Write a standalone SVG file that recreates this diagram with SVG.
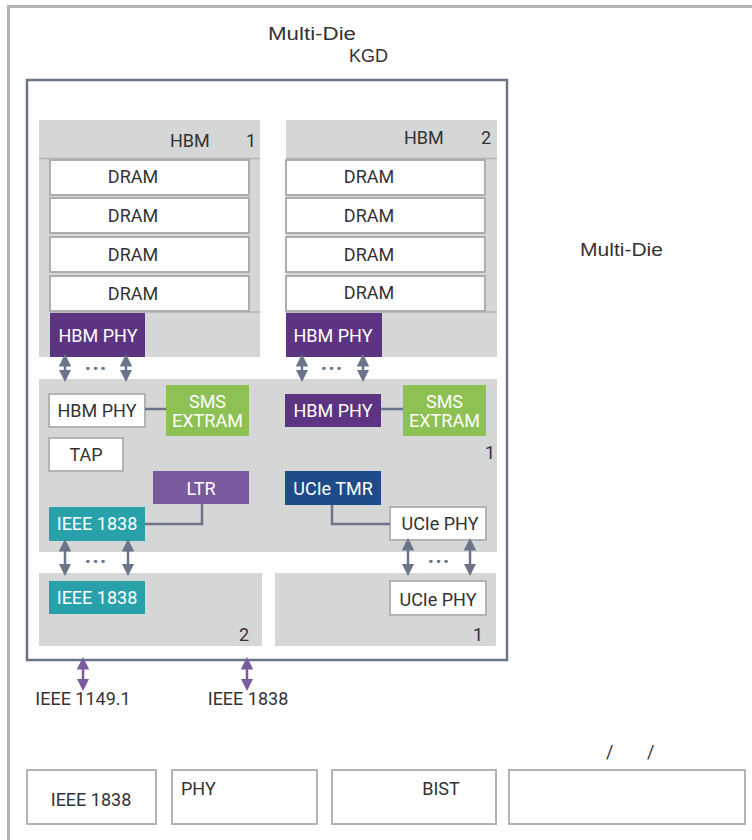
<svg xmlns="http://www.w3.org/2000/svg" width="752" height="840" viewBox="0 0 752 840">
<style>
text{font-family:Roboto,"Liberation Sans",sans-serif;fill:#333;font-size:18px}
.t{font-family:"Liberation Sans",Arial,sans-serif}
.c{text-anchor:middle}
.w{fill:#fff}
.gray{fill:#d5d6d6}
.box{fill:#fff;stroke:#b3b3b3;stroke-width:2}
.dram{fill:#fff;stroke:#aeaeae;stroke-width:2}
.sep{stroke:#b3b3b3;stroke-width:1.5}
.conn{fill:none;stroke:#6b7489;stroke-width:2.5}
.arr{stroke:#6b7489;stroke-width:2.5;marker-start:url(#ag);marker-end:url(#ag)}
.parr{stroke:#7b5ba0;stroke-width:2.5;marker-start:url(#ap);marker-end:url(#ap)}
.dots{fill:#6b7489;font-size:22px;font-weight:bold;letter-spacing:1px}
</style>
<defs>
<marker id="ag" viewBox="0 0 10 10" refX="6" refY="5" markerWidth="5" markerHeight="5" orient="auto-start-reverse" markerUnits="strokeWidth"><path d="M0,0L10,5L0,10z" fill="#6b7489"/></marker>
<marker id="ap" viewBox="0 0 10 10" refX="6" refY="5" markerWidth="5" markerHeight="5" orient="auto-start-reverse" markerUnits="strokeWidth"><path d="M0,0L10,5L0,10z" fill="#7b5ba0"/></marker>
</defs>
<rect x="0" y="0" width="752" height="840" fill="#fff"/>
<rect x="8.5" y="6.5" width="760" height="850" fill="none" stroke="#b3b3b3" stroke-width="3"/>
<text class="t" x="268" y="40" font-size="21" textLength="88" lengthAdjust="spacingAndGlyphs">Multi-Die</text>
<text class="t" x="349" y="62" font-size="16">KGD</text>
<text class="t" x="580" y="256" font-size="21" textLength="83" lengthAdjust="spacingAndGlyphs">Multi-Die</text>

<g id="kgd"><rect x="27" y="80" width="480" height="580" fill="none" stroke="#6b7489" stroke-width="2.5"/></g>

<g id="hbm1">
<rect class="gray" x="39" y="120" width="221" height="237"/>
<line class="sep" x1="39" y1="158.5" x2="260" y2="158.5"/>
<line class="sep" x1="50" y1="312" x2="260" y2="312"/>
<text x="170" y="147">HBM</text><text x="246" y="147">1</text>
<rect class="dram" x="50" y="160" width="199" height="35"/><text class="c" x="133" y="183">DRAM</text>
<rect class="dram" x="50" y="198" width="199" height="35"/><text class="c" x="133" y="222">DRAM</text>
<rect class="dram" x="50" y="237" width="199" height="35"/><text class="c" x="133" y="261">DRAM</text>
<rect class="dram" x="50" y="276" width="199" height="35"/><text class="c" x="133" y="300">DRAM</text>
<rect x="50" y="313" width="95" height="44" fill="#5c3481"/><text class="c w" x="98" y="342">HBM PHY</text>
</g>

<g id="hbm2">
<rect class="gray" x="286" y="120" width="211" height="237"/>
<line class="sep" x1="286" y1="158.5" x2="497" y2="158.5"/>
<line class="sep" x1="286" y1="312" x2="497" y2="312"/>
<text x="404" y="144">HBM</text><text x="481" y="144">2</text>
<rect class="dram" x="286" y="160" width="199" height="35"/><text class="c" x="369" y="183">DRAM</text>
<rect class="dram" x="286" y="198" width="199" height="35"/><text class="c" x="369" y="222">DRAM</text>
<rect class="dram" x="286" y="237" width="199" height="35"/><text class="c" x="369" y="261">DRAM</text>
<rect class="dram" x="286" y="276" width="199" height="35"/><text class="c" x="369" y="299">DRAM</text>
<rect x="286" y="313" width="96" height="44" fill="#5c3481"/><text class="c w" x="333" y="342">HBM PHY</text>
</g>

<g id="die1">
<rect class="gray" x="39" y="379" width="458" height="173"/>
<text x="485" y="459">1</text>
<rect class="box" x="49" y="394" width="96" height="33"/><text class="c" x="97" y="417">HBM PHY</text>
<rect x="166" y="385" width="83" height="51" fill="#8dc153"/><text class="c w" x="207.5" y="408">SMS</text><text class="c w" x="207.5" y="427">EXTRAM</text>
<rect class="box" x="49" y="438" width="74" height="33"/><text class="c" x="86" y="461">TAP</text>
<rect x="153" y="471" width="96" height="33" fill="#7b5ba0"/><text class="c w" x="201" y="495">LTR</text>
<rect x="49" y="507" width="96" height="34" fill="#28a1ab"/><text class="c w" x="97" y="530">IEEE 1838</text>
<rect x="285" y="394" width="96" height="33" fill="#5c3481"/><text class="c w" x="333" y="417">HBM PHY</text>
<rect x="403" y="385" width="83" height="51" fill="#8dc153"/><text class="c w" x="444.5" y="408">SMS</text><text class="c w" x="444.5" y="427">EXTRAM</text>
<rect x="285" y="471" width="96" height="34" fill="#1e4b8a"/><text class="c w" x="333" y="495">UCIe TMR</text>
<rect class="box" x="390" y="507" width="96" height="33" fill="#fff"/><text class="c" x="440" y="530">UCIe PHY</text>
</g>

<g id="die2">
<rect class="gray" x="39" y="573" width="223" height="73"/>
<rect x="49" y="581" width="96" height="33" fill="#28a1ab"/><text class="c w" x="97" y="604">IEEE 1838</text>
<text x="239" y="641">2</text>
</g>

<g id="die1b">
<rect class="gray" x="275" y="573" width="221" height="73"/>
<rect class="box" x="390" y="581" width="96" height="34"/><text class="c" x="438" y="606">UCIe PHY</text>
<text x="473" y="641">1</text>
</g>

<g id="connectors">
<line class="conn" x1="145" y1="409" x2="166" y2="409"/>
<line class="conn" x1="381" y1="409" x2="403" y2="409"/>
<polyline class="conn" points="145,524 202,524 202,504"/>
<polyline class="conn" points="332,505 332,524 390,524"/>
<line class="arr" x1="65" y1="359" x2="65" y2="377"/>
<line class="arr" x1="126" y1="359" x2="126" y2="377"/>
<line class="arr" x1="302" y1="359" x2="302" y2="377"/>
<line class="arr" x1="363" y1="359" x2="363" y2="377"/>
<line class="arr" x1="65" y1="544" x2="65" y2="571"/>
<line class="arr" x1="128" y1="544" x2="128" y2="571"/>
<line class="arr" x1="408" y1="543" x2="408" y2="571"/>
<line class="arr" x1="470" y1="543" x2="470" y2="571"/>
<text class="c dots" x="96" y="376">···</text>
<text class="c dots" x="332" y="376">···</text>
<text class="c dots" x="96" y="569">···</text>
<text class="c dots" x="439" y="569">···</text>
<line class="parr" x1="83" y1="662" x2="83" y2="686"/>
<line class="parr" x1="247" y1="662" x2="247" y2="686"/>
</g>
<text class="c" x="83" y="705">IEEE 1149.1</text>
<text class="c" x="248" y="705">IEEE 1838</text>

<g id="legend">
<rect class="box" x="27" y="770" width="129" height="54"/><text class="c" x="91" y="806">IEEE 1838</text>
<rect class="box" x="172" y="770" width="145" height="54"/><text x="181" y="795">PHY</text>
<rect class="box" x="332" y="770" width="164" height="54"/><text class="c" x="441" y="795" font-family="Lato,sans-serif">BIST</text>
<rect class="box" x="509" y="770" width="236" height="54"/>
<text x="606" y="758">/</text><text x="647" y="758">/</text>
</g>
</svg>
